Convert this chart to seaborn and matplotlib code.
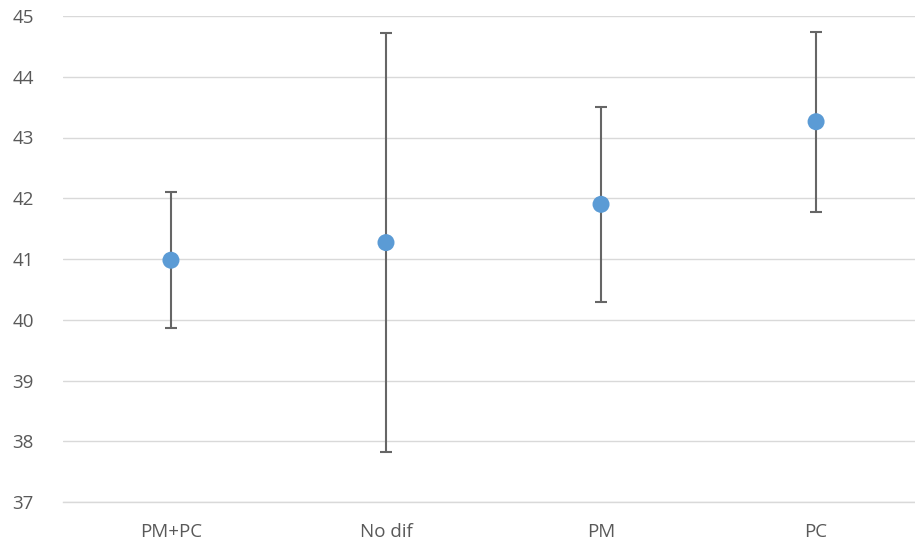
import matplotlib
matplotlib.use("Agg")
import matplotlib.pyplot as plt
import seaborn as sns
import pandas as pd

# datos
grupos = ["PM+PC", "No dif", "PM", "PC"]
medias = [40.98, 41.27, 41.90, 43.26]
errores = [1.12, 3.45, 1.60, 1.48]

df = pd.DataFrame({"grupo": grupos, "media": medias, "error": errores})

sns.set_style("white")
plt.rcParams['font.family'] = ['Open Sans', 'DejaVu Sans']

fig = plt.figure(figsize=(9.15, 5.48), dpi=100)
ax = fig.add_axes([63 / 915, 1 - 502 / 548, 1 - 63 / 915, (502 - 16) / 548])

# barras de error
ax.errorbar(range(len(df)), df["media"], yerr=df["error"], fmt="none",
            ecolor="#666666", elinewidth=1.5, capsize=4.5, capthick=1.5, zorder=2)
# puntos
sns.scatterplot(data=df, x="grupo", y="media", ax=ax, color="#5B9BD5",
                s=150, edgecolor="none", zorder=3)

ax.set_ylim(37, 45)
ax.set_yticks(range(37, 46))
ax.set_xlim(-0.502, 3.46)
ax.grid(axis="y", color="#D9D9D9", linewidth=1.0)
ax.set_axisbelow(True)
for s in ["top", "right", "left"]:
    ax.spines[s].set_visible(False)
ax.spines["bottom"].set_color("#D9D9D9")
ax.spines["bottom"].set_linewidth(1.0)
ax.tick_params(axis="both", length=0, labelsize=13.5, colors="#595959")
ax.tick_params(axis="y", pad=21)
ax.tick_params(axis="x", pad=15)
ax.set_xlabel("")
ax.set_ylabel("")

plt.savefig("out.png", dpi=100)
